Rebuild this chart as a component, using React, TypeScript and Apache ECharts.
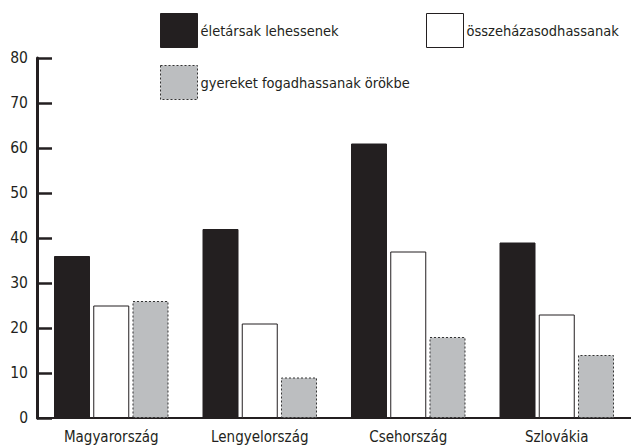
import React, { useEffect, useRef } from "react";
import * as echarts from "echarts";

const categories = ["Magyarország", "Lengyelország", "Csehország", "Szlovákia"];
const seriesNames = ["életársak lehessenek", "összeházasodhassanak", "gyereket fogadhassanak örökbe"];
const partnerValues = [36, 42, 61, 39];
const marriageValues = [25, 21, 37, 23];
const adoptValues = [26, 9, 18, 14];
const yTicks = { min: 0, max: 80, interval: 10 };

const FONT = "'DejaVu Sans Condensed', 'Liberation Sans Narrow', sans-serif";
const INK = "#231f20";

export default function App() {
  const ref = useRef<HTMLDivElement>(null);
  useEffect(() => {
    if (!ref.current) return;
    const chart = echarts.init(ref.current, undefined, { renderer: "svg" });
    const styles = [
      { color: INK, borderColor: INK, borderWidth: 1 },
      { color: "#ffffff", borderColor: INK, borderWidth: 1 },
      { color: "#bcbec0", borderColor: "#333333", borderWidth: 1, borderType: [2, 2] },
    ];
    const legendPos = [
      { left: 160, top: 13 },
      { left: 426, top: 13 },
      { left: 160, top: 65 },
    ];
    const dataArr = [partnerValues, marriageValues, adoptValues];
    chart.setOption({
      animation: false,
      textStyle: { fontFamily: FONT },
      legend: seriesNames.map((n, i) => ({
        data: [{ name: n, icon: "rect", itemStyle: styles[i] }],
        left: legendPos[i].left,
        top: legendPos[i].top,
        padding: 0,
        itemWidth: 37,
        itemHeight: 34,
        selectedMode: false,
        textStyle: { fontFamily: FONT, fontSize: 14.5, color: INK, padding: [0, 0, 0, -2] },
      })),
      grid: { left: 37, right: 0, top: 58, bottom: 30, containLabel: false },
      xAxis: {
        type: "category",
        data: categories,
        axisLine: { lineStyle: { color: INK, width: 2 } },
        axisTick: { inside: true, length: 7, lineStyle: { color: INK, width: 2 } },
        axisLabel: { fontFamily: FONT, fontSize: 15, color: INK, margin: 11 },
      },
      yAxis: {
        type: "value",
        min: yTicks.min,
        max: yTicks.max,
        interval: yTicks.interval,
        axisLine: { show: true, lineStyle: { color: INK, width: 3 } },
        axisTick: { show: true, inside: true, length: 15, lineStyle: { color: INK, width: 2.5 } },
        splitLine: { show: false },
        axisLabel: { fontFamily: FONT, fontSize: 15.5, color: INK, margin: 9 },
      },
      series: seriesNames.map((n, i) => ({
        name: n,
        type: "bar",
        data: dataArr[i],
        barWidth: 36,
        barGap: "9%",
        itemStyle: styles[i],
      })),
    });
    return () => chart.dispose();
  }, []);
  return <div ref={ref} style={{ width: 631, height: 448, position: "absolute", left: 0, top: 0, background: "#fff" }} />;
}
